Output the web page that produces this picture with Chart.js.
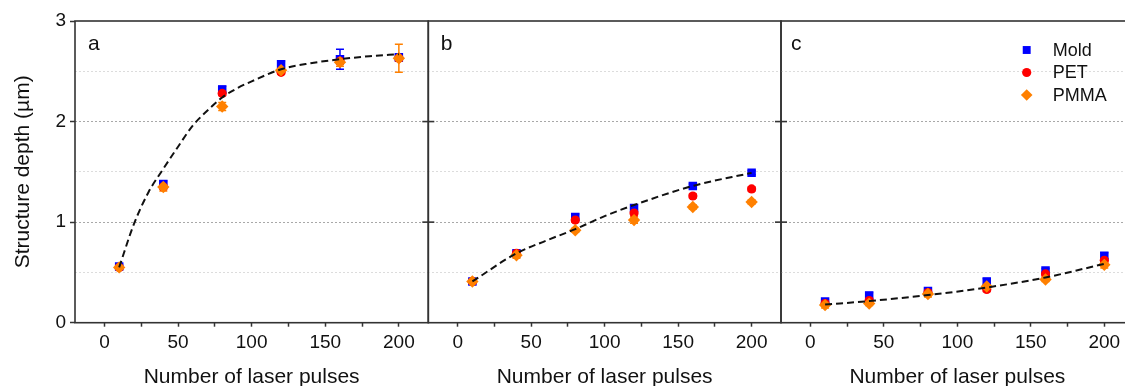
<!DOCTYPE html>
<html><head><meta charset="utf-8">
<script src="https://cdn.jsdelivr.net/npm/chart.js@4"></script>
<style>
html,body{margin:0;padding:0;background:#fff;overflow:hidden;width:1125px;height:386px;position:relative;}
canvas{position:absolute;top:0;}
</style></head><body>
<canvas id="ca" style="left:0px;width:440px;height:392px" width="440" height="392"></canvas>
<canvas id="cb" style="left:420px;width:372px;height:392px" width="372" height="392"></canvas>
<canvas id="cc" style="left:773px;width:400px;height:392px" width="400" height="392"></canvas>
<script>
// ---------- data ----------
const pulses = [10, 40, 80, 120, 160, 200];
const seriesNames = ['Mold', 'PET', 'PMMA'];
const panelLabels = ['a', 'b', 'c'];
const xTickValues = [0, 25, 50, 75, 100, 125, 150, 175, 200];
const yTickValues = [0, 0.5, 1, 1.5, 2, 2.5, 3];
const xTitle = 'Number of laser pulses';
const yTitle = 'Structure depth (µm)';

const moldA = [0.56, 1.38, 2.32, 2.57, 2.62, 2.64];
const petA  = [0.55, 1.35, 2.28, 2.49, 2.60, 2.63];
const pmmaA = [0.55, 1.35, 2.15, 2.51, 2.59, 2.63];
const moldErrA = [0.02, 0.03, 0.03, 0.03, 0.10, 0.03];
const petErrA  = [0.02, 0.02, 0.02, 0.02, 0.03, 0.03];
const pmmaErrA = [0.02, 0.04, 0.04, 0.03, 0.04, 0.14];
const fitXA = [10, 20, 30, 40, 50, 60, 70, 80, 90, 100, 120, 140, 160, 180, 200];
const fitYA = [0.55, 0.98, 1.30, 1.53, 1.75, 1.96, 2.11, 2.24, 2.33, 2.40, 2.52, 2.58, 2.62, 2.65, 2.67];

const moldB = [0.41, 0.69, 1.05, 1.14, 1.36, 1.49];
const petB  = [0.41, 0.69, 1.02, 1.09, 1.26, 1.33];
const pmmaB = [0.41, 0.67, 0.92, 1.02, 1.15, 1.20];
const moldErrB = [0.02, 0.02, 0.03, 0.03, 0.02, 0.02];
const petErrB  = [0.02, 0.02, 0.02, 0.03, 0.02, 0.02];
const pmmaErrB = [0.02, 0.03, 0.02, 0.03, 0.02, 0.02];
const fitXB = [10, 40, 60, 80, 100, 120, 160, 200];
const fitYB = [0.41, 0.69, 0.815, 0.93, 1.06, 1.17, 1.36, 1.49];

const moldC = [0.21, 0.27, 0.315, 0.41, 0.52, 0.665];
const petC  = [0.19, 0.22, 0.30, 0.33, 0.485, 0.62];
const pmmaC = [0.175, 0.19, 0.285, 0.36, 0.43, 0.575];
const moldErrC = [0.02, 0.03, 0.02, 0.03, 0.02, 0.03];
const petErrC  = [0.02, 0.02, 0.02, 0.02, 0.02, 0.02];
const pmmaErrC = [0.03, 0.02, 0.03, 0.02, 0.02, 0.03];
const fitXC = [10, 40, 80, 120, 160, 200];
const fitYC = [0.18, 0.215, 0.275, 0.35, 0.45, 0.585];

// ---------- styles ----------
const FONT = "'Liberation Sans', Arial, sans-serif";
const TXT = '#111';
const colors = ['#0000ff', '#ff0000', '#ff8000'];
const styles = ['rect', 'circle', 'rectRot'];
const radii = [6, 4.6, 6.2];

function pts(xs, ys) { return xs.map((x, i) => ({x: x, y: ys[i]})); }

const decor = {
  id: 'decor',
  beforeDatasetsDraw(chart) {
    const o = chart.options.plugins.decor;
    const ctx = chart.ctx, xs = chart.scales.x, ys = chart.scales.y;
    ctx.save();
    ctx.lineWidth = 1.5;
    o.errors.forEach((errs, si) => {
      ctx.strokeStyle = colors[si];
      const vals = o.values[si];
      pulses.forEach((p, i) => {
        const px = xs.getPixelForValue(p);
        const y1 = ys.getPixelForValue(vals[i] + errs[i]);
        const y2 = ys.getPixelForValue(vals[i] - errs[i]);
        ctx.beginPath();
        ctx.moveTo(px, y1); ctx.lineTo(px, y2);
        ctx.moveTo(px - 4, y1); ctx.lineTo(px + 4, y1);
        ctx.moveTo(px - 4, y2); ctx.lineTo(px + 4, y2);
        ctx.stroke();
      });
    });
    ctx.restore();
  },
  afterDraw(chart) {
    const o = chart.options.plugins.decor;
    const ctx = chart.ctx, a = chart.chartArea, ys = chart.scales.y;
    ctx.save();
    ctx.strokeStyle = '#333';
    ctx.lineWidth = 1.6;
    ctx.strokeRect(a.left, a.top, a.right - a.left, a.bottom - a.top);
    if (o.innerTicks) {
      [1, 2].forEach(v => {
        const py = ys.getPixelForValue(v);
        ctx.beginPath(); ctx.moveTo(a.left - 6, py); ctx.lineTo(a.left + 6, py); ctx.stroke();
      });
    }
    ctx.fillStyle = TXT;
    ctx.font = '21px ' + FONT;
    ctx.textBaseline = 'middle';
    ctx.textAlign = 'left';
    ctx.fillText(o.label, a.left + o.labelDx, 44);
    if (o.legend) {
      seriesNames.forEach((name, i) => {
        const y = 50 + i * 22.5;
        ctx.fillStyle = colors[i];
        Chart.helpers.drawPoint(ctx, {pointStyle: styles[i], radius: [5.6, 4.6, 5.8][i], rotation: 0, borderWidth: 0}, a.left + 245.7, y);
        ctx.fillStyle = TXT;
        ctx.font = '18px ' + FONT;
        ctx.fillText(name, a.left + 271.7, y + 1);
      });
    }
    ctx.restore();
  }
};

function makePanel(id, idx, vals, errs, fitX, fitY, cfg) {
  const datasets = vals.map((v, si) => ({
    label: seriesNames[si],
    data: pts(pulses, v),
    pointStyle: styles[si],
    pointRadius: radii[si],
    pointBackgroundColor: colors[si],
    pointBorderWidth: 0,
    showLine: false,
    order: 4 - si
  }));
  datasets.push({
    label: 'fit',
    data: pts(fitX, fitY),
    showLine: true,
    pointRadius: 0,
    borderColor: '#111',
    borderWidth: 2,
    borderDash: [7, 4],
    cubicInterpolationMode: 'monotone',
    fill: false,
    order: 0
  });
  const first = idx === 0;
  return new Chart(document.getElementById(id), {
    type: 'scatter',
    data: {datasets},
    options: {
      responsive: false,
      animation: false,
      layout: {padding: cfg.padding},
      plugins: {
        legend: {display: false},
        tooltip: {enabled: false},
        decor: {label: panelLabels[idx], labelDx: cfg.labelDx, legend: cfg.legend, innerTicks: !first, values: vals, errors: errs}
      },
      scales: {
        x: {
          type: 'linear', min: -20, max: 220,
          afterBuildTicks: s => { s.ticks = xTickValues.map(v => ({value: v})); },
          afterFit: s => { s.height = 392 - 322.7; },
          ticks: {autoSkip: false, maxRotation: 0, color: TXT, padding: 5,
                  font: {family: FONT, size: 19},
                  callback: v => (v % 50 === 0 ? String(v) : '')},
          grid: {drawOnChartArea: false, drawTicks: true, tickLength: 4, tickWidth: 1.5, tickColor: '#333'},
          border: {display: false},
          title: {display: true, text: xTitle, color: TXT, font: {family: FONT, size: 21}, padding: {top: 0, bottom: 2}}
        },
        y: {
          type: 'linear', min: 0, max: 3,
          afterBuildTicks: s => { s.ticks = yTickValues.map(v => ({value: v})); },
          afterFit: s => { s.width = first ? 75 : 0; },
          ticks: {display: first, color: TXT, padding: 4, font: {family: FONT, size: 19},
                  callback: v => (Number.isInteger(v) ? String(v) : '')},
          grid: {
            drawTicks: first, tickLength: 5, tickWidth: 1.5,
            tickColor: c => (c.tick && Number.isInteger(c.tick.value) ? '#333' : 'rgba(0,0,0,0)'),
            color: c => {
              const v = c.tick ? c.tick.value : 0;
              if (v === 0 || v === 3) return 'rgba(0,0,0,0)';
              return Number.isInteger(v) ? '#a8a8a8' : '#dcdcdc';
            },
            lineWidth: 1
          },
          border: {display: false, dash: [2, 2]},
          title: {display: first, text: yTitle, color: TXT, font: {family: FONT, size: 21}, padding: {top: 11, bottom: 0}}
        }
      }
    },
    plugins: [decor]
  });
}

makePanel('ca', 0, [moldA, petA, pmmaA], [moldErrA, petErrA, pmmaErrA], fitXA, fitYA,
  {padding: {left: 0, top: 21, right: 440 - 428.3, bottom: 0}, labelDx: 13, legend: false});
makePanel('cb', 1, [moldB, petB, pmmaB], [moldErrB, petErrB, pmmaErrB], fitXB, fitYB,
  {padding: {left: 8.3, top: 21, right: 372 - 352.7 - 8.3, bottom: 0}, labelDx: 12.4, legend: false});
makePanel('cc', 2, [moldC, petC, pmmaC], [moldErrC, petErrC, pmmaErrC], fitXC, fitYC,
  {padding: {left: 8, top: 21, right: 400 - 8 - 352.7, bottom: 0}, labelDx: 10, legend: true});
</script>
</body></html>
